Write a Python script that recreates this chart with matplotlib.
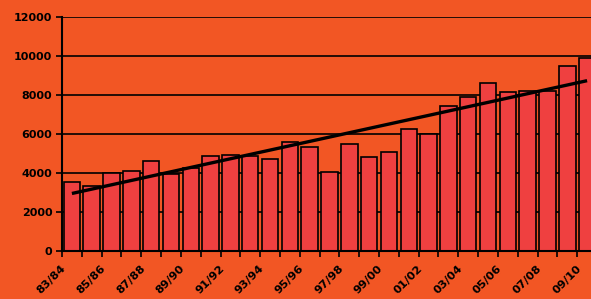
import numpy as np
import matplotlib
matplotlib.use("Agg")
import matplotlib.pyplot as plt
import matplotlib.transforms as mtransforms

seasons = ["83/84", "84/85", "85/86", "86/87", "87/88", "88/89", "89/90", "90/91",
           "91/92", "92/93", "93/94", "94/95", "95/96", "96/97", "97/98", "98/99",
           "99/00", "00/01", "01/02", "02/03", "03/04", "04/05", "05/06", "06/07",
           "07/08", "08/09", "09/10"]
values = [3500, 3320, 3980, 4080, 4620, 3920, 4260, 4830, 4930, 4830, 4720, 5550,
          5340, 4050, 5460, 4790, 5080, 6220, 6000, 7440, 7900, 8580, 8120, 8200,
          8200, 9480, 9860]
yticks = [0, 2000, 4000, 6000, 8000, 10000, 12000]

bg = "#F25624"
bar_col = "#EF4040"

plt.rcParams["font.family"] = "DejaVu Sans"

fig = plt.figure(figsize=(5.91, 2.99), dpi=100, facecolor=bg)
ax = fig.add_axes([62 / 591, 0.162, (597 - 62) / 591, 0.782])
ax.set_facecolor(bg)

x = np.arange(len(values))
ax.bar(x, values, width=0.83, color=bar_col, edgecolor="black", linewidth=1.2, zorder=2)

# linear trend line, like the spreadsheet one
k, b = np.polyfit(x, values, 1)
ax.plot([x[0], x[-1]], [k * x[0] + b, k * x[-1] + b], color="black", lw=2.4,
        solid_capstyle="butt", zorder=3)

ax.set_xlim(-0.5, len(values) - 0.5)
ax.set_ylim(0, 12000)
ax.set_yticks(yticks)
ax.set_yticklabels([str(v) for v in yticks], fontsize=8, fontweight="bold")
ax.yaxis.grid(True, color="black", lw=1.2)
ax.set_axisbelow(True)

ax.set_xticks(x[::2])
ax.set_xticklabels(seasons[::2], rotation=45, ha="right", rotation_mode="anchor",
                   fontsize=8.2, fontweight="bold")
ax.set_xticks(np.arange(-0.5, len(values)), minor=True)
ax.tick_params(axis="x", which="major", length=0, pad=9)
ax.tick_params(axis="x", which="minor", length=4, width=1.2, direction="out")
ax.tick_params(axis="y", length=4, width=1.2, pad=3)

shift = mtransforms.ScaledTranslation(-8 / 72, 0, fig.dpi_scale_trans)
for lab in ax.get_xticklabels():
    lab.set_transform(lab.get_transform() + shift)

for s in ["top", "right"]:
    ax.spines[s].set_visible(False)
for s in ["left", "bottom"]:
    ax.spines[s].set_linewidth(1.5)

fig.savefig("out.png", dpi=100, facecolor=bg)
